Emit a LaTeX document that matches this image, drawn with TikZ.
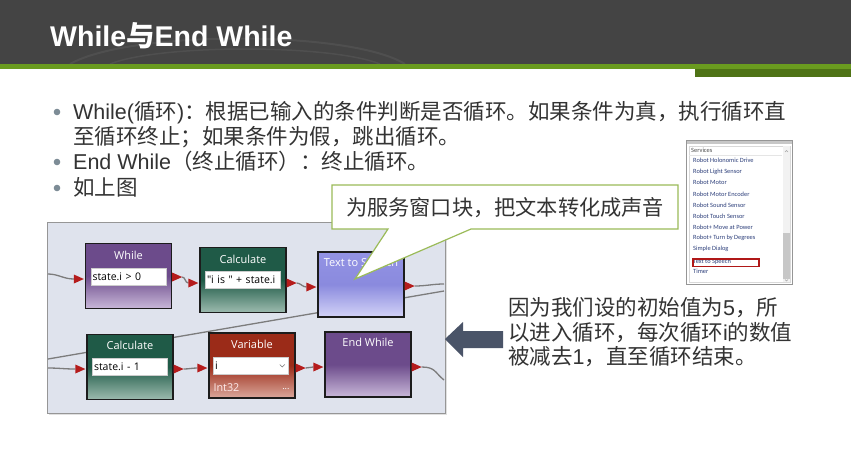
\documentclass[tikz,border=0pt]{standalone}
\usepackage{fontspec}
\setmainfont{Liberation Sans}
\newfontfamily\cjk{Noto Sans CJK SC}
\newfontfamily\uifont{Open Sans}
\newfontfamily\listfont{Carlito}
\usetikzlibrary{arrows.meta}

\definecolor{headgray}{HTML}{444444}
\definecolor{headarc}{HTML}{4F4F4F}
\definecolor{barlime}{HTML}{6A9B1F}
\definecolor{bardark}{HTML}{4F7316}
\definecolor{bodytext}{HTML}{333333}
\definecolor{bulletgray}{HTML}{7D8C96}
\definecolor{framefill}{HTML}{DFE3ED}
\definecolor{frameedge}{HTML}{969696}
\definecolor{wiregray}{HTML}{7C7C7C}
\definecolor{portred}{HTML}{B51C1C}
\definecolor{blockedge}{HTML}{1C1C1C}
\definecolor{whileTop}{HTML}{6C4B8B}
\definecolor{whileBot}{HTML}{C9B8D9}
\definecolor{calcTop}{HTML}{1F5A47}
\definecolor{calcBot}{HTML}{9DBBAF}
\definecolor{ttsTop}{HTML}{9393E4}
\definecolor{ttsMid}{HTML}{8A8ADE}
\definecolor{ttsBot}{HTML}{D3D3F7}
\definecolor{varTop}{HTML}{9B2B18}
\definecolor{varBot}{HTML}{DBA89C}
\definecolor{calloutedge}{HTML}{9BBB59}
\definecolor{arrowslate}{HTML}{4A5468}
\definecolor{listblue}{HTML}{2C3E7A}
\definecolor{redmark}{HTML}{B01818}

\tikzset{
  block/.style={draw=blockedge, line width=1.3pt, minimum width=86pt,
    minimum height=65pt, inner sep=0pt},
  whileblk/.style={block, top color=whileTop, bottom color=whileBot, middle color=whileTop},
  calcblk/.style={block, top color=calcTop, bottom color=calcBot, middle color=calcTop},
  ttsblk/.style={block, top color=ttsTop, bottom color=ttsBot, middle color=ttsMid},
  varblk/.style={block, top color=varTop, bottom color=varBot, middle color=varTop},
  blktitle/.style={font=\uifont\fontsize{11}{12}\selectfont, text=white, inner sep=0pt},
  field/.style={fill=white, draw=black!20, line width=0.6pt, minimum width=75pt,
    minimum height=17pt, inner ysep=0pt, inner xsep=1.5pt, text width=72pt, align=left,
    font=\uifont\fontsize{10.5}{12}\selectfont, text=black},
  wire/.style={draw=wiregray, line width=1.3pt},
  port/.pic={\fill[portred] (0,-4.5) -- (10,0) -- (0,4.5) -- cycle;},
  bodyline/.style={anchor=base west, inner sep=0pt, text=bodytext,
    font=\fontsize{21.5}{25}\selectfont},
  listitem/.style={anchor=west, inner sep=0pt, text=listblue,
    font=\listfont\fontsize{6.4}{7}\selectfont},
}

\begin{document}
\begin{tikzpicture}[x=1pt,y=-1pt]
\useasboundingbox (0,0) rectangle (851,475);
\fill[white] (0,0) rectangle (851,475);

% title bar
\fill[headgray] (0,0) rectangle (851,64);
\begin{scope}
  \clip (0,0) rectangle (851,64);
  \draw[headarc, line width=2pt] (70,64) .. controls (130,30) and (350,30) .. (405,64);
  \draw[headarc, line width=1.5pt] (110,64) .. controls (160,44) and (330,44) .. (380,64);
\end{scope}
\fill[barlime] (0,64) rectangle (851,69);
\fill[bardark] (695,69) rectangle (851,77);
\node[anchor=base west, inner sep=0pt, text=white, font=\bfseries\fontsize{28.5}{30}\selectfont]
  (title) at (50,46) {While{\cjk 与}End While};

% bullet list
\foreach \by in {112,162,188} \fill[bulletgray] (57,\by) circle[radius=3.3pt];
\node[bodyline] (b1) at (73,119)
  {While(\cjk 循环\rmfamily)\cjk ：根据已输入的条件判断是否循环。如果条件为真，执行循环直};
\node[bodyline] (b1b) at (73,144) {\cjk 至循环终止；如果条件为假，跳出循环。};
\node[bodyline] (b2) at (73,169) {End While\cjk （终止循环）：终止循环。};
\node[bodyline] (b3) at (73,195) {\cjk 如上图};

% services list panel
\fill[white] (686,140) rectangle (792,284);
\fill[black!22] (686,140) rectangle (792,144);
\draw[frameedge, line width=0.8pt] (686,140) rectangle (792,284);
\draw[black!15, line width=0.6pt] (689,146) rectangle (790,282);
\fill[black!5] (783,146) rectangle (790,282);
\fill[black!22] (783,233) rectangle (790,279);
\draw[black!35, line width=0.4pt] (785,152) -- (786.5,150.5) -- (788,152);
\draw[black!35, line width=0.4pt] (785,279.5) -- (786.5,281) -- (788,279.5);
\node[listitem, text=black!70] (svc) at (691,150) {Services};
\draw[black!10, line width=0.5pt] (689,155.5) -- (782,155.5);
\foreach \name/\yy [count=\k] in {Robot Holonomic Drive/160.7, Robot Light Sensor/171.7,
    Robot Motor/182.7, Robot Motor Encoder/194.0, Robot Sound Sensor/205.2,
    Robot Touch Sensor/216.2, Robot+ Move at Power/227.3, Robot+ Turn by Degrees/238.3,
    Simple Dialog/249.3, Text to Speech/261.7, Timer/271.8}
  \node[listitem] (item\k) at (693,\yy) {\name};
\draw[redmark, line width=1.3pt] (693,259) rectangle (759,266.5);

% screenshot of the program
\fill[black!12] (49,224) rectangle (447,415);
\fill[framefill] (47,222) rectangle (445,413);
\draw[frameedge, line width=1pt] (47,222) rectangle (445,413);

\coordinate (loopR) at (444,291);
\coordinate (loopL) at (48,359);
\draw[wire] (loopR) -- (loopL);

\node[whileblk] (w)   at (128.5,276)   {};
\node[calcblk]  (c1)  at (243,280)     {};
\node[ttsblk]   (tts) at (361,284.5)   {};
\node[calcblk]  (c2)  at (130,367)     {};
\node[varblk]   (v)   at (252,365.5)   {};
\node[whileblk] (ew)  at (368,364.5)   {};

\node[blktitle] (wt)   at ([shift={(0,13)}]w.north)    {While};
\node[blktitle] (c1t)  at ([shift={(0,12.5)}]c1.north) {Calculate};
\node[blktitle] (ttst) at ([shift={(0,12)}]tts.north)  {Text to Speech};
\node[blktitle] (c2t)  at ([shift={(0,12)}]c2.north)   {Calculate};
\node[blktitle] (vt)   at ([shift={(0,12)}]v.north)    {Variable};
\node[blktitle] (ewt)  at ([shift={(0,11.5)}]ew.north) {End While};

\node[field] (wf)  at ([shift={(0,0.5)}]w.center)  {state.i > 0};
\node[field] (c1f) at ([shift={(0,-0.5)}]c1.center) {\mbox{"i is " + state.i}};
\node[field] (c2f) at (c2.center) {state.i - 1};
\node[field] (vf)  at ([shift={(-1,0.5)}]v.center) {i};
\draw[black!55, line width=0.6pt] ([shift={(-9,-1.5)}]vf.east) -- ++(2.5,2.5) -- ++(2.5,-2.5);
\node[anchor=west, inner sep=0pt, text=white!92!red, font=\uifont\fontsize{10.8}{12}\selectfont]
  (vtype) at ([shift={(5,-11)}]v.south west) {Int32};
\node[anchor=east, inner sep=0pt, text=white, font=\uifont\fontsize{9}{10}\selectfont]
  (vmore) at ([shift={(-6,-10)}]v.south east) {...};

% wires and ports
\coordinate (inW)  at (48,274);
\coordinate (inC2) at (48,368);
\coordinate (outT) at (444,284);
\coordinate (outE) at (444,380);

\draw[wire] (inW) to[out=0,in=180] ([shift={(-11,3)}]w.west);
\pic at ([shift={(-11,3)}]w.west) {port};

\draw[wire] ([shift={(10,1)}]w.east) to[out=0,in=180] ([shift={(-11,3)}]c1.west);
\pic at ([shift={(0,1)}]w.east) {port};
\pic at ([shift={(-11,3)}]c1.west) {port};

\draw[wire] ([shift={(10,3)}]c1.east) to[out=0,in=180] ([shift={(-11,2.5)}]tts.west);
\pic at ([shift={(0,3)}]c1.east) {port};
\pic at ([shift={(-11,2.5)}]tts.west) {port};

\draw[wire] ([shift={(10,1.5)}]tts.east) to[out=0,in=180] (outT);
\pic at ([shift={(0,1.5)}]tts.east) {port};

\draw[wire] (inC2) to[out=0,in=180] ([shift={(-11,2)}]c2.west);
\pic at ([shift={(-11,2)}]c2.west) {port};

\draw[wire] ([shift={(10,2)}]c2.east) to[out=0,in=180] ([shift={(-11,2.5)}]v.west);
\pic at ([shift={(0,2)}]c2.east) {port};
\pic at ([shift={(-11,2.5)}]v.west) {port};

\draw[wire] ([shift={(10,2.5)}]v.east) to[out=0,in=180] ([shift={(-11,2.5)}]ew.west);
\pic at ([shift={(0,2.5)}]v.east) {port};
\pic at ([shift={(-11,2.5)}]ew.west) {port};

\draw[wire] ([shift={(10,2.5)}]ew.east) .. controls +(14,0) and +(-9,-7) .. (outE);
\pic at ([shift={(0,2.5)}]ew.east) {port};

% speech callout
\draw[calloutedge, fill=white, line width=1.2pt, line join=miter]
  (332,185) -- (678,185) -- (678,229) -- (471,229) -- (355,279) -- (388,229) -- (332,229) -- cycle;
\node[inner sep=0pt, text=bodytext, font=\cjk\fontsize{21.2}{25}\selectfont]
  (callout) at (505,208) {为服务窗口块，把文本转化成声音};

% pointing arrow and note
\fill[arrowslate] (445,339) -- (463,322) -- (463,331) -- (503,331) -- (503,348)
  -- (463,348) -- (463,357) -- cycle;
\node[bodyline] (n1) at (508,315) {\cjk 因为我们设的初始值为\rmfamily 5\cjk ，所};
\node[bodyline] (n2) at (508,340) {\cjk 以进入循环，每次循环\rmfamily i\cjk 的数值};
\node[bodyline] (n3) at (508,364) {\cjk 被减去\rmfamily 1\cjk ，直至循环结束。};
\end{tikzpicture}
\end{document}
